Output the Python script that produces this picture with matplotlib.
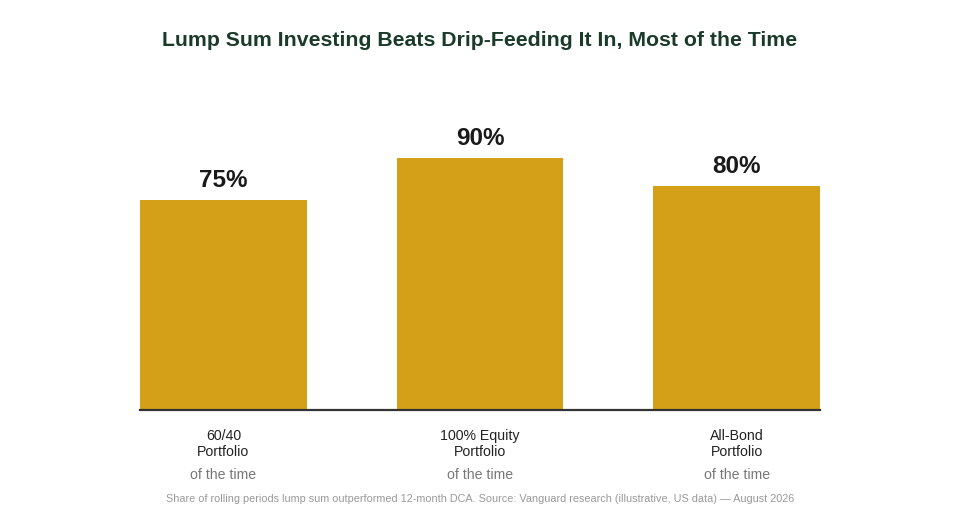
import matplotlib.pyplot as plt

categories = ['60/40\nPortfolio', '100% Equity\nPortfolio', 'All-Bond\nPortfolio']
values = [75, 90, 80]
value_labels = ['75%', '90%', '80%']
sub_label = 'of the time'

title = 'Lump Sum Investing Beats Drip-Feeding It In, Most of the Time'
footnote = ('Share of rolling periods lump sum outperformed 12-month DCA. '
            'Source: Vanguard research (illustrative, US data) \u2014 August 2026')

plt.rcParams['font.family'] = ['Liberation Sans', 'DejaVu Sans']

fig = plt.figure(figsize=(9.6, 5.2), dpi=100)
# axes: x 140..820 px, baseline at y=410 px, 2.8 px per percent
ax = fig.add_axes([140 / 960, (520 - 410) / 520, 680 / 960, 336 / 520])

x = range(len(values))
ax.bar(x, values, width=0.65, color='#D4A017', zorder=2)
ax.set_xlim(-0.325, 2.325)
ax.set_ylim(0, 120)

for xi, v, lab in zip(x, values, value_labels):
    ax.annotate(lab, (xi, v), xytext=(0, 5.5), textcoords='offset points',
                ha='center', va='bottom', fontsize=17.5, fontweight='bold',
                color='#1a1a1a')

for xi, cat in zip(x, categories):
    ax.annotate(cat, (xi, 0), xytext=(0, -14), textcoords='offset points',
                ha='center', va='top', fontsize=10.2, color='#222222',
                linespacing=1.15)
    ax.annotate(sub_label, (xi, 0), xytext=(0, -42), textcoords='offset points',
                ha='center', va='top', fontsize=10.2, color='#777777')

for side in ['top', 'right', 'left']:
    ax.spines[side].set_visible(False)
ax.spines['bottom'].set_color('#333333')
ax.spines['bottom'].set_linewidth(1.6)
ax.set_xticks([])
ax.set_yticks([])

fig.text(0.5, 1 - 41 / 520, title, ha='center', va='center', fontsize=15.3,
         fontweight='bold', color='#1a3a2a')
fig.text(0.5, 1 - 499 / 520, footnote, ha='center', va='center', fontsize=7.8,
         color='#999999')

fig.savefig('out.png', dpi=100, facecolor='white')
